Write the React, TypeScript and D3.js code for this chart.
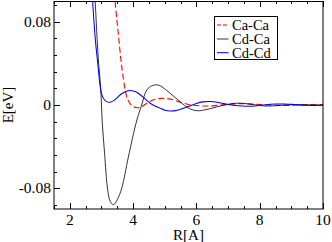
import React, { useEffect, useRef } from 'react';
import * as d3 from 'd3';

// pair potentials, [R in A, E in eV]
const caCa: [number, number][] = [
  [3.38, 0.125], [3.43, 0.1], [3.53, 0.069], [3.64, 0.037], [3.75, 0.0144], [3.82, 0.006],
  [3.9, 0.0016], [4.0, -0.0015], [4.12, -0.0026], [4.25, -0.002], [4.45, 0.002], [4.65, 0.005],
  [4.9, 0.0064], [5.2, 0.0055], [5.49, 0.0026], [5.8, 0.0003], [6.12, -0.0008], [6.5, -0.0008],
  [6.9, 0.0004], [7.38, 0.0012], [7.8, 0.0008], [8.3, 0.0], [8.8, -0.0004], [9.3, 0.0], [10, 0.0002],
];

const cdCa: [number, number][] = [
  [2.76, 0.12], [2.8, 0.1], [2.9, 0.0444], [2.98, 0.0144], [3.02, -0.0144], [3.1, -0.047],
  [3.19, -0.08], [3.28, -0.093], [3.38, -0.0958], [3.5, -0.091], [3.64, -0.08], [3.85, -0.05],
  [4.11, -0.0154], [4.27, 0.0], [4.43, 0.0144], [4.6, 0.0185], [4.8, 0.0192], [5.1, 0.013],
  [5.49, 0.003], [5.75, -0.003], [6.02, -0.0055], [6.3, -0.0045], [6.75, -0.001], [7.1, 0.0012],
  [7.38, 0.0018], [7.7, 0.0008], [8.17, -0.001], [8.6, -0.0005], [9.0, 0.0003], [9.5, 0.0002], [10, 0.0],
];

const cdCd: [number, number][] = [
  [2.65, 0.135], [2.72, 0.1], [2.8, 0.065], [2.9, 0.035], [2.95, 0.02], [3.0, 0.011],
  [3.08, 0.0055], [3.18, 0.003], [3.27, 0.0027], [3.4, 0.0045], [3.65, 0.011], [3.85, 0.0136],
  [3.96, 0.0138], [4.1, 0.0125], [4.3, 0.008], [4.55, 0.0015], [4.85, -0.003], [5.0, -0.005],
  [5.17, -0.0058], [5.4, -0.005], [5.7, -0.002], [6.0, 0.0015], [6.2, 0.003], [6.43, 0.0034],
  [6.7, 0.0025], [7.0, 0.0005], [7.3, -0.0008], [7.6, -0.0012], [7.85, -0.001], [8.2, 0.0003],
  [8.5, 0.0009], [8.8, 0.001], [9.1, 0.0004], [9.4, -0.0003], [9.7, -0.0004], [10, -0.0002],
];

const seriesNames = ['Ca-Ca', 'Cd-Ca', 'Cd-Cd'];
const xMajor = [2, 4, 6, 8, 10];
const yMajor = [-0.08, 0, 0.08];

const App: React.FC = () => {
  const ref = useRef<SVGSVGElement>(null);

  useEffect(() => {
    const svg = d3.select(ref.current);
    svg.selectAll('*').remove();

    const left = 54, right = 323, top = 1, bottom = 209;

    const x = d3.scaleLinear().domain([1.5, 10]).range([left, right]);
    const y = d3.scaleLinear().domain([-0.1, 0.1]).range([bottom, top]);

    svg.append('defs').append('clipPath').attr('id', 'plot-clip')
      .append('rect').attr('x', left).attr('y', top)
      .attr('width', right - left).attr('height', bottom - top);

    // curves
    const line = d3.line<[number, number]>()
      .x((d) => x(d[0]))
      .y((d) => y(d[1]))
      .curve(d3.curveCatmullRom.alpha(0.5));

    const styles = [
      { data: caCa, color: '#ff0000', width: 1.1, dash: '6,3' },
      { data: cdCa, color: '#000000', width: 0.8, dash: null },
      { data: cdCd, color: '#0000ff', width: 1.05, dash: null },
    ];

    const curves = svg.append('g').attr('clip-path', 'url(#plot-clip)');
    styles.forEach((s) => {
      curves.append('path')
        .attr('d', line(s.data))
        .attr('fill', 'none')
        .attr('stroke', s.color)
        .attr('stroke-width', s.width)
        .attr('stroke-dasharray', s.dash);
    });

    // frame
    svg.append('rect')
      .attr('x', left).attr('y', top + 0.5)
      .attr('width', right - left).attr('height', bottom - top - 0.5)
      .attr('fill', 'none').attr('stroke', '#000').attr('stroke-width', 1);

    // ticks pointing inward
    const ticks = svg.append('g').attr('stroke', '#000').attr('stroke-width', 1);
    const xMinor = d3.range(1.5, 10.001, 0.5);
    xMinor.forEach((v) => {
      const major = xMajor.some((m) => Math.abs(m - v) < 1e-6);
      const len = major ? 6 : 3;
      const px = Math.round(x(v)) + 0.5;
      ticks.append('line').attr('x1', px).attr('x2', px).attr('y1', bottom).attr('y2', bottom - len);
      ticks.append('line').attr('x1', px).attr('x2', px).attr('y1', top).attr('y2', top + len);
    });
    const yMinor = d3.range(-0.096, 0.0961, 0.016);
    yMinor.forEach((v) => {
      const major = yMajor.some((m) => Math.abs(m - v) < 1e-6);
      const len = major ? 6 : 3;
      const py = Math.round(y(v)) + 0.5;
      ticks.append('line').attr('x1', left).attr('x2', left + len).attr('y1', py).attr('y2', py);
    });

    const txt = svg.append('g').attr('font-family', 'Liberation Serif');

    // tick labels
    txt.append('g').selectAll('text').data(xMajor).enter().append('text')
      .attr('x', (d) => x(d)).attr('y', 224.5)
      .attr('text-anchor', 'middle')
      .attr('font-size', 15.5)
      .text((d) => String(d));

    txt.append('g').selectAll('text').data(yMajor).enter().append('text')
      .attr('x', left - 3).attr('y', (d) => y(d) + 5)
      .attr('text-anchor', 'end')
      .attr('font-size', 15.5)
      .text((d) => (d === 0 ? '0' : String(d)));

    // axis titles
    txt.append('text')
      .attr('x', (left + right) / 2).attr('y', 239.5)
      .attr('text-anchor', 'middle')
      .attr('font-size', 15)
      .text('R[A]');

    txt.append('text')
      .attr('transform', `translate(13,${(top + bottom) / 2}) rotate(-90)`)
      .attr('text-anchor', 'middle')
      .attr('font-size', 15)
      .text('E[eV]');

    // legend
    const lg = svg.append('g');
    lg.append('rect')
      .attr('x', 214.5).attr('y', 16.5).attr('width', 63).attr('height', 43)
      .attr('fill', '#fff').attr('stroke', '#000').attr('stroke-width', 1);
    const rows = [25, 39, 52.7];
    styles.forEach((s, i) => {
      lg.append('line')
        .attr('x1', 217).attr('x2', 228.5).attr('y1', rows[i]).attr('y2', rows[i])
        .attr('stroke', s.color).attr('stroke-width', s.width)
        .attr('stroke-dasharray', s.dash ? '4,2' : null);
      lg.append('text')
        .attr('x', 232).attr('y', rows[i] + 5)
        .attr('font-family', 'Liberation Serif').attr('font-size', 14.5)
        .text(seriesNames[i]);
    });
  }, []);

  return (
    <svg
      ref={ref}
      width={332}
      height={242}
      style={{ position: 'absolute', left: 0, top: 0, background: '#fff' }}
    />
  );
};

export default App;
